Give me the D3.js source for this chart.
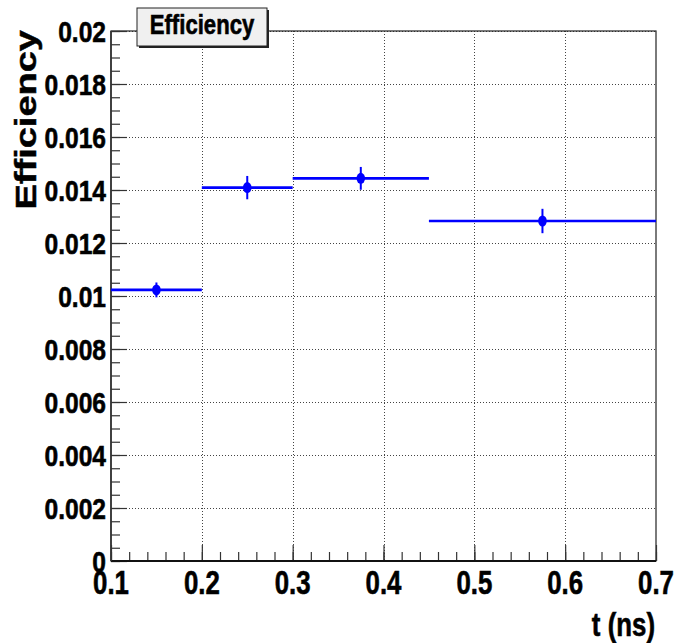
<!DOCTYPE html>
<html><head><meta charset="utf-8">
<script src="https://cdn.jsdelivr.net/npm/d3@7"></script>
<style>html,body{margin:0;padding:0;background:#fff;}svg{display:block;}</style>
</head><body>
<script>
const binEdges = [0.1, 0.2, 0.3, 0.45, 0.7];
const binCenters = [0.15, 0.25, 0.375, 0.575];
const efficiency = [0.01023, 0.01409, 0.01444, 0.01283];
const errors = [0.00028, 0.00044, 0.00043, 0.00046];
const xTicks = [0.1, 0.2, 0.3, 0.4, 0.5, 0.6, 0.7];
const xTickLabels = ["0.1","0.2","0.3","0.4","0.5","0.6","0.7"];
const yTicks = [0, 0.002, 0.004, 0.006, 0.008, 0.01, 0.012, 0.014, 0.016, 0.018, 0.02];
const yTickLabels = ["0","0.002","0.004","0.006","0.008","0.01","0.012","0.014","0.016","0.018","0.02"];

const W = 674, H = 643;
const L = 111, R = 656, T = 31, B = 561;
const FONT = "'Liberation Sans', Arial, Helvetica, sans-serif";

const svg = d3.select("body").append("svg").attr("width", W).attr("height", H);
svg.append("rect").attr("width", W).attr("height", H).attr("fill", "#fff");

const x = d3.scaleLinear().domain([0.1, 0.7]).range([L, R]);
const y = d3.scaleLinear().domain([0, 0.02]).range([B, T]);

// grid
const grid = svg.append("g").attr("stroke", "#444").attr("stroke-width", 1).attr("stroke-dasharray", "1,2");
grid.selectAll("line.gx").data(xTicks.slice(1, -1)).join("line")
  .attr("x1", d => Math.round(x(d)) + 0.5).attr("x2", d => Math.round(x(d)) + 0.5)
  .attr("y1", T).attr("y2", B);
grid.selectAll("line.gy").data(yTicks.slice(1)).join("line")
  .attr("y1", d => Math.round(y(d)) + 0.5).attr("y2", d => Math.round(y(d)) + 0.5)
  .attr("x1", L).attr("x2", R);

// frame
svg.append("rect").attr("x", L).attr("y", T).attr("width", R - L).attr("height", B - T)
  .attr("fill", "none").attr("stroke", "#222").attr("stroke-width", 1.2);

// axes via d3
const xMinor = d3.range(0.1, 0.7001, 0.02);
const yMinor = d3.range(0, 0.02001, 0.0005);
const xAxisMinor = d3.axisTop(x).tickValues(xMinor).tickSize(9).tickFormat("");
const xAxisMajor = d3.axisTop(x).tickValues(xTicks).tickSize(16).tickFormat("");
const gxm = svg.append("g").attr("transform", `translate(0,${B})`).call(xAxisMinor);
const gxM = svg.append("g").attr("transform", `translate(0,${B})`).call(xAxisMajor);
const yAxisMinor = d3.axisRight(y).tickValues(yMinor).tickSize(9).tickFormat("");
const yAxisMajor = d3.axisRight(y).tickValues(yTicks).tickSize(16).tickFormat("");
const gym = svg.append("g").attr("transform", `translate(${L},0)`).call(yAxisMinor);
const gyM = svg.append("g").attr("transform", `translate(${L},0)`).call(yAxisMajor);
[gxm, gxM, gym, gyM].forEach(g => {
  g.select(".domain").remove();
  g.selectAll(".tick line").attr("stroke", "#333").attr("stroke-width", 1.2);
});
// axis lines
svg.append("line").attr("x1", L).attr("x2", R).attr("y1", B).attr("y2", B).attr("stroke", "#111").attr("stroke-width", 2);
svg.append("line").attr("x1", L).attr("x2", L).attr("y1", T).attr("y2", B).attr("stroke", "#333").attr("stroke-width", 1.6);

// tick labels
function sText(px, py, txt, size, sx, anchor) {
  const g = svg.append("g").attr("transform", `translate(${px},${py}) scale(${sx},1)`);
  g.append("text").text(txt).attr("font-family", FONT).attr("font-weight", "bold")
    .attr("font-size", size).attr("text-anchor", anchor)
    .attr("fill", "#000").attr("stroke", "#000").attr("stroke-width", 0.6);
  return g;
}
yTicks.forEach((v, i) => sText(106, y(v) + 10.5, yTickLabels[i], 30, 0.82, "end"));
xTicks.forEach((v, i) => sText(x(v), 594, xTickLabels[i], 34, 0.76, "middle"));

// axis titles
sText(655, 636, "t (ns)", 34, 0.76, "end");
svg.append("g").attr("transform", `translate(36,30) rotate(-90) scale(1,0.78)`)
  .append("text").text("Efficiency").attr("font-family", FONT).attr("font-weight", "bold")
  .attr("font-size", 38).attr("text-anchor", "end").attr("fill", "#000")
  .attr("stroke", "#000").attr("stroke-width", 0.6);

// data
const blue = "#0000ff";
const dg = svg.append("g");
dg.selectAll("line.h").data(efficiency).join("line")
  .attr("x1", (d, i) => x(binEdges[i])).attr("x2", (d, i) => x(binEdges[i + 1]))
  .attr("y1", d => y(d)).attr("y2", d => y(d))
  .attr("stroke", blue).attr("stroke-width", 2.6);
dg.selectAll("line.v").data(efficiency).join("line")
  .attr("x1", (d, i) => x(binCenters[i])).attr("x2", (d, i) => x(binCenters[i]))
  .attr("y1", (d, i) => y(d + errors[i])).attr("y2", (d, i) => y(d - errors[i]))
  .attr("stroke", blue).attr("stroke-width", 2);
dg.selectAll("ellipse").data(efficiency).join("ellipse")
  .attr("cx", (d, i) => x(binCenters[i])).attr("cy", d => y(d))
  .attr("rx", 4.3).attr("ry", 5.5).attr("fill", blue);

// legend / title box
const bx = 137, by = 8, bw = 130, bh = 38;
svg.append("rect").attr("x", bx + 2).attr("y", by + 2).attr("width", bw).attr("height", bh).attr("fill", "#222");
svg.append("rect").attr("x", bx).attr("y", by).attr("width", bw).attr("height", bh)
  .attr("fill", "#f0f0f0").attr("stroke", "#222").attr("stroke-width", 1);
sText(bx + bw / 2, 34, "Efficiency", 27, 0.82, "middle");
</script>
</body></html>
